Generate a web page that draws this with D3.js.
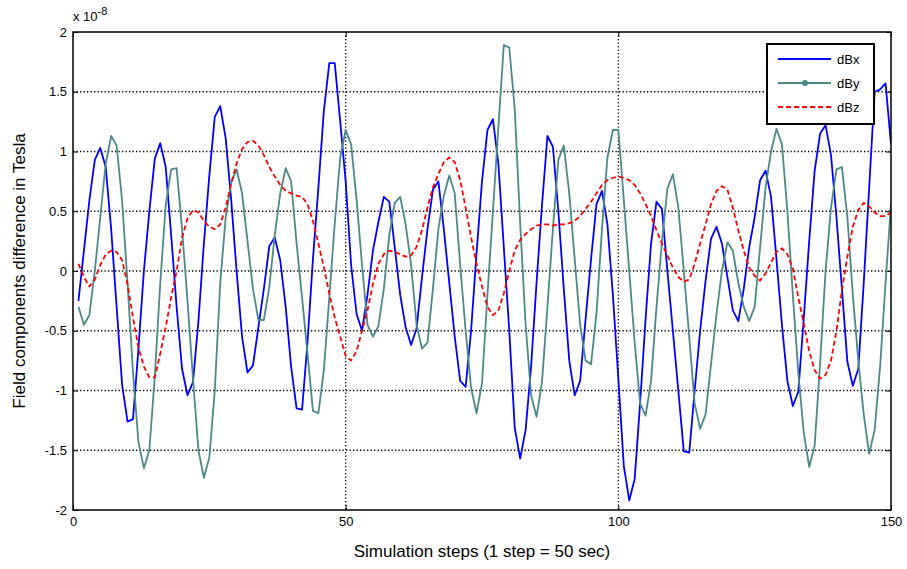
<!DOCTYPE html>
<html>
<head>
<meta charset="utf-8">
<script src="https://cdn.jsdelivr.net/npm/d3@7"></script>
<style>
  body { margin: 0; background: #fff; }
  svg { font-family: "Liberation Sans", Arial, sans-serif; }
  .tick text { font-size: 13px; fill: #000; }
  .domain { display: none; }
</style>
</head>
<body>
<div id="chart"></div>
<script>
// values in units of 1e-8 Tesla, one per simulation step (1..150)
var dBx = [-0.25,0.17,0.59,0.93,1.03,0.87,0.35,-0.3,-0.95,-1.26,
  -1.24,-0.65,0.0,0.5,0.94,1.07,0.87,0.3,-0.3,-0.82,
  -1.04,-0.93,-0.42,0.23,0.8,1.29,1.38,1.11,0.6,0.0,
  -0.55,-0.85,-0.79,-0.47,-0.15,0.21,0.28,0.09,-0.3,-0.8,
  -1.15,-1.16,-0.6,0.1,0.7,1.34,1.74,1.74,1.25,0.75,
  0.05,-0.36,-0.5,-0.2,0.17,0.41,0.62,0.58,0.2,-0.2,
  -0.47,-0.62,-0.48,-0.05,0.35,0.68,0.75,0.35,-0.1,-0.55,
  -0.92,-0.97,-0.5,0.15,0.75,1.18,1.27,0.9,0.2,-0.5,
  -1.31,-1.57,-1.33,-0.8,-0.1,0.55,1.13,1.04,0.5,-0.15,
  -0.75,-1.04,-0.92,-0.4,0.1,0.56,0.67,0.39,-0.2,-0.9,
  -1.63,-1.92,-1.74,-1.1,-0.4,0.23,0.58,0.52,0.0,-0.5,
  -1.0,-1.51,-1.52,-1.0,-0.5,-0.08,0.27,0.37,0.23,-0.05,
  -0.33,-0.42,-0.15,0.2,0.45,0.76,0.84,0.62,0.1,-0.45,
  -0.92,-1.13,-1.01,-0.4,0.25,0.84,1.15,1.22,0.97,0.45,
  -0.15,-0.76,-0.96,-0.82,-0.1,0.7,1.5,1.52,1.57,1.06];

var dBy = [-0.3,-0.45,-0.37,0.0,0.45,0.9,1.13,1.05,0.59,-0.1,
  -0.85,-1.43,-1.65,-1.5,-0.88,-0.1,0.55,0.85,0.86,0.35,
  -0.25,-0.9,-1.5,-1.73,-1.56,-1.0,-0.1,0.45,0.74,0.85,
  0.65,0.25,-0.15,-0.41,-0.41,-0.13,0.3,0.65,0.86,0.75,
  0.23,-0.22,-0.69,-1.17,-1.19,-0.83,-0.22,0.4,0.95,1.18,
  1.06,0.6,0.05,-0.45,-0.55,-0.46,-0.15,0.3,0.57,0.62,
  0.39,0.05,-0.45,-0.65,-0.6,-0.15,0.35,0.63,0.8,0.65,
  0.05,-0.5,-0.98,-1.19,-0.94,-0.2,0.5,1.2,1.89,1.87,
  1.36,0.4,-0.45,-1.04,-1.22,-0.93,-0.3,0.35,0.93,1.05,
  0.65,0.1,-0.45,-0.75,-0.78,-0.35,0.35,0.95,1.18,1.18,
  0.6,0.0,-0.6,-1.11,-1.21,-0.92,-0.3,0.25,0.69,0.81,
  0.53,0.0,-0.55,-1.11,-1.32,-1.2,-0.78,-0.36,0.0,0.24,
  0.17,-0.1,-0.3,-0.42,-0.3,0.2,0.7,1.0,1.19,1.06,
  0.5,-0.2,-0.85,-1.35,-1.64,-1.46,-0.77,0.0,0.53,0.85,
  0.87,0.45,-0.2,-0.75,-1.2,-1.53,-1.33,-0.8,-0.1,0.56];

var dBz = [0.06,-0.05,-0.13,-0.07,0.05,0.14,0.17,0.16,0.09,-0.11,
  -0.39,-0.64,-0.8,-0.89,-0.89,-0.69,-0.47,-0.22,0.0,0.28,
  0.44,0.51,0.49,0.42,0.37,0.35,0.39,0.53,0.73,0.9,
  1.02,1.08,1.09,1.05,0.97,0.87,0.79,0.72,0.67,0.65,
  0.63,0.62,0.56,0.42,0.23,0.03,-0.19,-0.39,-0.55,-0.71,
  -0.75,-0.67,-0.5,-0.33,-0.11,0.06,0.14,0.17,0.16,0.14,
  0.12,0.13,0.2,0.34,0.53,0.7,0.81,0.91,0.95,0.91,
  0.76,0.53,0.28,0.06,-0.13,-0.3,-0.37,-0.33,-0.19,0.0,
  0.17,0.26,0.31,0.35,0.38,0.39,0.39,0.38,0.39,0.39,
  0.4,0.42,0.46,0.52,0.58,0.65,0.72,0.76,0.78,0.79,
  0.78,0.76,0.72,0.65,0.56,0.46,0.34,0.23,0.13,0.03,
  -0.05,-0.09,-0.07,0.06,0.23,0.39,0.56,0.67,0.71,0.68,
  0.53,0.34,0.17,0.03,-0.04,-0.08,-0.02,0.07,0.16,0.19,
  0.14,0.02,-0.22,-0.44,-0.67,-0.83,-0.9,-0.87,-0.75,-0.5,
  -0.16,0.12,0.37,0.51,0.57,0.54,0.49,0.46,0.46,0.49];

var xTicks = [0, 50, 100, 150];
var yTicks = [-2, -1.5, -1, -0.5, 0, 0.5, 1, 1.5, 2];

var seriesList = [
  {name: 'dBx', values: dBx, color: '#0000ff', dash: null},
  {name: 'dBy', values: dBy, color: '#4a8a86', dash: null, dot: true},
  {name: 'dBz', values: dBz, color: '#ff0000', dash: '5,3'}
];

var margin = {top: 32, right: 16, bottom: 59, left: 73};
var outerWidth = 907, outerHeight = 569;
var width = outerWidth - margin.left - margin.right;
var height = outerHeight - margin.top - margin.bottom;

var svg = d3.select('#chart').append('svg')
  .attr('width', outerWidth)
  .attr('height', outerHeight);

var g = svg.append('g')
  .attr('transform', 'translate(' + margin.left + ',' + margin.top + ')');

var x = d3.scaleLinear().domain([0, 150]).range([0, width]);
var y = d3.scaleLinear().domain([-2, 2]).range([height, 0]);

// grid, dotted like matlab
g.append('g').selectAll('line')
  .data(yTicks.slice(1, -1))
  .enter().append('line')
  .attr('x1', 0).attr('x2', width)
  .attr('y1', d => y(d)).attr('y2', d => y(d))
  .attr('stroke', '#000').attr('stroke-width', 1.3)
  .attr('stroke-dasharray', '1.3,2.2');

g.append('g').selectAll('line')
  .data(xTicks.slice(1, -1))
  .enter().append('line')
  .attr('y1', 0).attr('y2', height)
  .attr('x1', d => x(d)).attr('x2', d => x(d))
  .attr('stroke', '#000').attr('stroke-width', 1.3)
  .attr('stroke-dasharray', '1.3,2.2');

// axes with inward ticks on all sides
g.append('g')
  .attr('transform', 'translate(0,' + height + ')')
  .call(d3.axisBottom(x).tickValues(xTicks).tickSize(-5).tickPadding(7).tickFormat(d3.format('d')));
g.append('g')
  .call(d3.axisTop(x).tickValues(xTicks).tickSize(-5).tickFormat(''));
g.append('g')
  .call(d3.axisLeft(y).tickValues(yTicks).tickSize(-5).tickPadding(6).tickFormat(d => d));
g.append('g')
  .attr('transform', 'translate(' + width + ',0)')
  .call(d3.axisRight(y).tickValues(yTicks).tickSize(-5).tickFormat(''));

// lines
var line = d3.line()
  .x((d, i) => x(i + 1))
  .y(d => y(d));

g.append('defs').append('clipPath').attr('id', 'clip')
  .append('rect').attr('width', width).attr('height', height);

seriesList.forEach(function(s) {
  g.append('path')
    .datum(s.values)
    .attr('clip-path', 'url(#clip)')
    .attr('fill', 'none')
    .attr('stroke', s.color)
    .attr('stroke-width', 1.8)
    .attr('stroke-linejoin', 'round')
    .attr('stroke-dasharray', s.dash)
    .attr('d', line);
});

// box
g.append('rect')
  .attr('width', width).attr('height', height)
  .attr('fill', 'none').attr('stroke', '#000').attr('stroke-width', 1.5);

// exponent
var expo = svg.append('text')
  .attr('x', margin.left)
  .attr('y', 21)
  .style('font-size', '13px');
expo.append('tspan').text('x 10');
expo.append('tspan').attr('dy', -6).style('font-size', '11px').text('-8');

// axis labels
svg.append('text')
  .attr('x', margin.left + width / 2)
  .attr('y', 557)
  .style('text-anchor', 'middle')
  .style('font-size', '17px')
  .text('Simulation steps (1 step = 50 sec)');

svg.append('text')
  .attr('transform', 'translate(25,' + (margin.top + height / 2) + ') rotate(-90)')
  .style('text-anchor', 'middle')
  .style('font-size', '17px')
  .text('Field components difference in Tesla');

// legend
var legend = svg.append('g').attr('transform', 'translate(767,44)');
legend.append('rect')
  .attr('width', 107).attr('height', 80)
  .attr('fill', '#fff').attr('stroke', '#000').attr('stroke-width', 2);

var item = legend.selectAll('.item')
  .data(seriesList)
  .enter().append('g')
  .attr('class', 'item')
  .attr('transform', (d, i) => 'translate(0,' + (15 + i * 24) + ')');
item.append('line')
  .attr('x1', 11).attr('x2', 64)
  .attr('stroke', d => d.color).attr('stroke-width', 1.8)
  .attr('stroke-dasharray', d => d.dash);
item.filter(d => d.dot).append('circle')
  .attr('cx', 38).attr('r', 3).attr('fill', d => d.color);
item.append('text')
  .attr('x', 70).attr('dy', '0.35em')
  .style('font-size', '13px')
  .text(d => d.name);
</script>
</body>
</html>
